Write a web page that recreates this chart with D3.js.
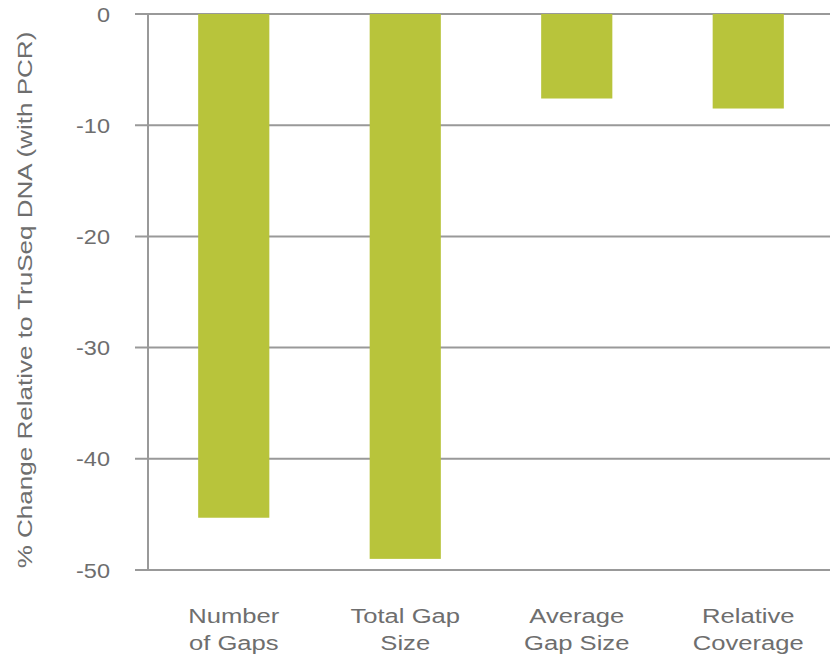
<!DOCTYPE html>
<html>
<head>
<meta charset="utf-8">
<script src="https://cdn.jsdelivr.net/npm/d3@7"></script>
<style>
  body { margin: 0; background: #fff; }
  text { font-family: "Liberation Sans", Arial, sans-serif; fill: #6e6e6e; }
</style>
</head>
<body>
<div id="chart"></div>
<script>
// categories (two lines each) and values
const categories = ["Number of Gaps", "Total Gap Size", "Average Gap Size", "Relative Coverage"];
const labelLines = [["Number", "of Gaps"], ["Total Gap", "Size"], ["Average", "Gap Size"], ["Relative", "Coverage"]];
const values = [-45.3, -49.0, -7.6, -8.5];
const yTicks = [0, -10, -20, -30, -40, -50];
const yLabel = "% Change Relative to TruSeq DNA (with PCR)";

const width = 830;
const height = 656;
const margin = { top: 14, right: 0, bottom: 86, left: 148 };
const stretch = 1.22; // the source font is wider than Arial

const svg = d3.select('#chart')
  .append('svg')
  .attr('width', width)
  .attr('height', height);

const xScale = d3.scaleBand()
  .domain(categories)
  .range([margin.left, 834])
  .paddingInner(0.585)
  .paddingOuter(0.2925);

const yScale = d3.scaleLinear()
  .domain([-50, 0])
  .range([height - margin.bottom, margin.top]);

// gridlines with the little tick stub on the left
svg.append('g')
  .selectAll('line')
  .data(yTicks)
  .join('line')
  .attr('x1', margin.left - 13)
  .attr('x2', width)
  .attr('y1', d => yScale(d))
  .attr('y2', d => yScale(d))
  .attr('stroke', '#999')
  .attr('stroke-width', 2);

// y axis line
svg.append('line')
  .attr('x1', margin.left)
  .attr('x2', margin.left)
  .attr('y1', yScale(0))
  .attr('y2', yScale(-50))
  .attr('stroke', '#999')
  .attr('stroke-width', 2);

// bars
svg.append('g')
  .selectAll('rect')
  .data(values)
  .join('rect')
  .attr('x', (d, i) => xScale(categories[i]))
  .attr('y', d => yScale(0))
  .attr('width', xScale.bandwidth())
  .attr('height', d => yScale(d) - yScale(0))
  .attr('fill', '#b8c43b');

// tick labels
svg.append('g')
  .selectAll('text')
  .data(yTicks)
  .join('text')
  .attr('transform', d => `translate(110, ${yScale(d)}) scale(1.12,1)`)
  .attr('dy', '0.36em')
  .attr('text-anchor', 'end')
  .attr('font-size', 21)
  .text(d => d);

// category labels
const catG = svg.append('g')
  .selectAll('g')
  .data(labelLines)
  .join('g')
  .attr('transform', (d, i) => `translate(${xScale(categories[i]) + xScale.bandwidth() / 2}, 0)`);

catG.selectAll('text')
  .data(d => d)
  .join('text')
  .attr('transform', (d, j) => `translate(0, ${623 + j * 27}) scale(${stretch},1)`)
  .attr('text-anchor', 'middle')
  .attr('font-size', 21)
  .text(d => d);

// y axis title
svg.append('text')
  .attr('transform', `translate(32, ${(yScale(0) + yScale(-50)) / 2 + 8}) rotate(-90) scale(1.27,1)`)
  .attr('text-anchor', 'middle')
  .attr('font-size', 20.5)
  .text(yLabel);
</script>
</body>
</html>
